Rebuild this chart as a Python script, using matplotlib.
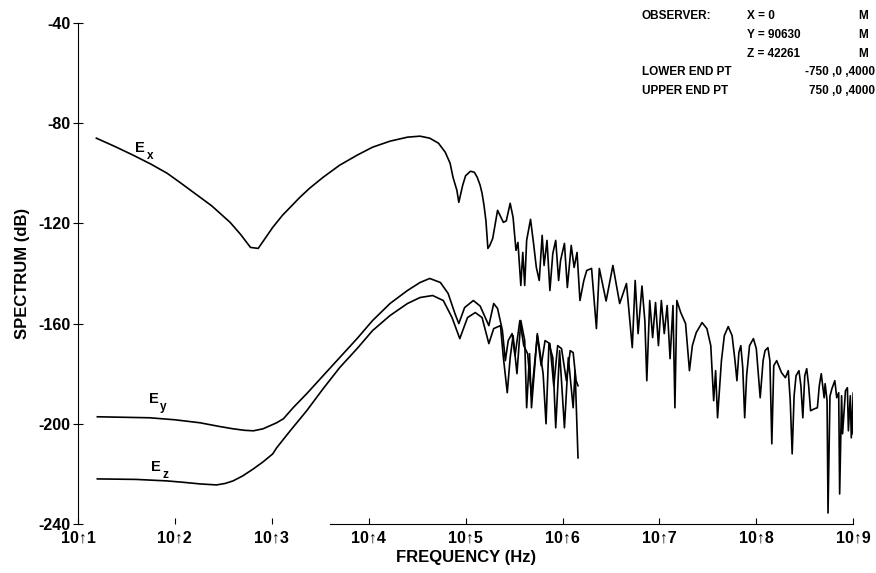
import matplotlib.pyplot as plt
import numpy as np

plt.rcParams['font.family'] = ['Liberation Sans', 'DejaVu Sans']
plt.rcParams['font.weight'] = 'bold'

# log10(frequency) and spectrum (dB)
ex_logf = [1.19, 1.38, 1.57, 1.75, 1.92, 2.05, 2.19, 2.38, 2.57, 2.68, 2.78, 2.86,
           3.01, 3.11, 3.19, 3.29, 3.39, 3.53, 3.70, 3.88, 4.04, 4.22, 4.40, 4.53,
           4.63, 4.72, 4.79, 4.84, 4.87, 4.91, 4.93, 4.97, 5.00, 5.05, 5.09, 5.12,
           5.15, 5.17, 5.19, 5.21, 5.23,
           5.25, 5.28, 5.33, 5.39, 5.42, 5.46, 5.49, 5.52, 5.54, 5.57, 5.59, 5.61,
           5.63, 5.67, 5.70, 5.73, 5.76, 5.79, 5.81, 5.84, 5.87, 5.90, 5.93, 5.96,
           5.98, 6.02, 6.05, 6.09, 6.12, 6.15, 6.18, 6.22, 6.25, 6.30, 6.35, 6.38,
           6.45, 6.52, 6.59, 6.66, 6.72, 6.75, 6.78, 6.82, 6.85, 6.87, 6.90, 6.93,
           6.96, 6.99, 7.02, 7.05, 7.08, 7.11, 7.14, 7.16, 7.18, 7.22, 7.27, 7.31,
           7.34, 7.38, 7.44, 7.49, 7.53, 7.56, 7.58, 7.60, 7.64, 7.67, 7.71, 7.75,
           7.78, 7.80, 7.82, 7.84, 7.86, 7.88, 7.90, 7.93, 7.97, 8.00, 8.04, 8.07,
           8.09, 8.12, 8.14, 8.16, 8.18, 8.21, 8.26, 8.30, 8.33, 8.35, 8.37, 8.39,
           8.41, 8.44, 8.46, 8.48, 8.50, 8.52, 8.54, 8.56, 8.60, 8.63, 8.65, 8.67,
           8.70, 8.71, 8.73, 8.74, 8.76, 8.78, 8.81, 8.83, 8.85, 8.86, 8.88, 8.89,
           8.92, 8.94, 8.95, 8.97, 8.98, 9.00, 9.00]
ex_db = [-86, -89.3, -92.8, -96.3, -100, -103.6, -107.6, -113, -119.6, -124.5, -129.6, -130,
         -121.6, -116.8, -113.6, -109.6, -106, -101.6, -96.8, -92.8, -89.6, -87.2, -85.6, -85.2,
         -86, -88, -91.6, -96, -101.6, -106.8, -111.6, -104.8, -101, -99.2, -99.6, -101.6,
         -104.8, -108, -112.8, -119, -130,
         -128.8, -126, -114.8, -119.6, -119, -112, -117.6, -130.8, -127.6, -144.8, -131.6, -144.8,
         -126.8, -118.4, -127.6, -137.6, -142.8, -124.8, -136.8, -126.8, -146.8, -132, -126.8, -142.8,
         -134.8, -128, -145.6, -128.8, -137.6, -131.6, -150.8, -142.8, -138.8, -138, -162, -138,
         -151, -136.8, -152, -144, -169.6, -142.8, -164, -145, -159, -182.8, -150.8, -165.6,
         -151.6, -168.8, -150.8, -164, -152.8, -174, -152.8, -193.6, -150.8, -155.6, -160, -178.8,
         -168.8, -163.6, -159.6, -162, -168.8, -190.8, -178.8, -197.6, -174.8, -164.8, -161.2, -164.8,
         -174.8, -182.8, -171.6, -168.8, -177.6, -197.6, -180.8, -168.8, -166, -170, -189.6, -174.8,
         -170.8, -169.6, -174.8, -208, -176.8, -174.8, -179.6, -181.6, -178.8, -190.8, -212, -188.8,
         -180.8, -178.8, -184.8, -197.6, -180.8, -178, -184.8, -194.8, -194, -193.6, -184.8, -180,
         -189.6, -184, -190.8, -235.6, -189, -186, -182.8, -189.6, -187.6, -228, -188.8, -204,
         -186.8, -185.6, -202.8, -188.8, -205.6, -187.6, -204]

ey_logf = [1.20, 1.74, 2.00, 2.26, 2.45, 2.60, 2.72, 2.81, 2.91, 2.98, 3.05, 3.12,
           3.22, 3.36, 3.53, 3.70, 3.88, 4.04, 4.22, 4.40, 4.53, 4.63, 4.74, 4.82,
           4.89, 4.93, 4.99, 5.08, 5.15, 5.24, 5.29, 5.33, 5.38, 5.41, 5.44, 5.48,
           5.51, 5.56, 5.60, 5.64, 5.68, 5.74, 5.78, 5.82, 5.87, 5.91, 5.95, 5.99,
           6.04, 6.08, 6.11, 6.14, 6.16]
ey_db = [-197.2, -197.6, -198.4, -199.6, -201, -202, -202.6, -202.8, -202, -200.8, -199.6, -198,
         -193.6, -188, -180.8, -173.6, -166, -158.8, -152, -146.8, -143.6, -142, -143.6, -148,
         -156, -160, -153.6, -150.8, -153, -160.8, -152, -154, -162.8, -174.8, -166.8, -164,
         -172.8, -158.8, -168.8, -172, -188.8, -164.8, -176.8, -166.8, -168, -184.8, -168.8, -170,
         -182.8, -170.8, -171.6, -182.8, -184.8]

ez_logf = [1.20, 1.60, 1.92, 2.10, 2.26, 2.43, 2.52, 2.60, 2.70, 2.81, 2.91, 3.01,
           3.05, 3.19, 3.36, 3.53, 3.70, 3.88, 4.04, 4.22, 4.40, 4.53, 4.66, 4.77,
           4.86, 4.94, 5.02, 5.10, 5.17, 5.24, 5.29, 5.36, 5.39, 5.43, 5.46, 5.49,
           5.53, 5.57, 5.61, 5.63, 5.66, 5.68, 5.74, 5.77, 5.80, 5.83, 5.86, 5.90,
           5.93, 5.97, 6.02, 6.06, 6.11, 6.13, 6.16]
ez_db = [-222, -222.2, -222.8, -223.4, -224, -224.4, -223.8, -222.8, -220.8, -218, -215.2, -212,
         -209.6, -202.8, -194.8, -186, -177.6, -170, -162.8, -156.8, -152, -149.6, -148.8, -150.8,
         -157.6, -166, -157.6, -155.6, -157.6, -168, -162, -160.8, -173.6, -187.6, -173.6, -164.8,
         -180, -158.8, -166.8, -193.6, -172, -193.6, -164, -172, -180, -200, -168, -173.6,
         -201.6, -170.8, -201.6, -173.6, -193.6, -178.8, -213.6]

fig = plt.figure(figsize=(8.76, 5.73), dpi=100)
ax = fig.add_axes([0.089, 0.0855, 0.885, 0.8745])

for lf, db in [(ex_logf, ex_db), (ey_logf, ey_db), (ez_logf, ez_db)]:
    ax.plot(10 ** np.array(lf), db, color='black', linewidth=1.2)

ax.set_xscale('log')
ax.set_xlim(10, 1e9)
ax.set_ylim(-240, -40)

xt = 10.0 ** np.arange(1, 10)
ax.set_xticks(xt)
ax.set_xticklabels([f"10\u2191{k}" for k in range(1, 10)], fontsize=11.5, fontweight='bold')
ax.minorticks_off()
yt = list(range(-240, -39, 40))
ax.set_yticks(yt)
ax.set_yticklabels([str(v) for v in yt], fontsize=11.5, fontweight='bold')
ax.tick_params(axis='x', direction='in', length=4, pad=5)
ax.tick_params(axis='y', direction='inout', length=7, pad=2)

for s in ['top', 'right']:
    ax.spines[s].set_visible(False)
ax.spines['bottom'].set_bounds(10 ** 3.6, 1e9)

ax.set_xlabel("FREQUENCY (Hz)", fontsize=12, fontweight='bold', labelpad=3)
ax.set_ylabel("SPECTRUM (dB)", fontsize=12, fontweight='bold', labelpad=6)

# curve labels
for lf, db, sub in [(1.64, -90, 'x'), (1.78, -190, 'y'), (1.80, -217.2, 'z')]:
    ax.text(10 ** lf, db, "E", fontsize=10.5, fontweight='bold', ha='center', va='center')
    ax.text(10 ** (lf + 0.1), db - 3.2, sub, fontsize=8.5, fontweight='bold', ha='center', va='center')

# observer block
fs = 8.5
def ftxt(x, y, s, ha='left'):
    fig.text(x / 876, 1 - y / 573, s, fontsize=fs, fontweight='bold', ha=ha, va='center')

ftxt(642, 16, "OBSERVER:")
ftxt(747, 16, "X = 0")
ftxt(858, 16, "M")
ftxt(747, 35, "Y = 90630")
ftxt(858, 35, "M")
ftxt(747, 54, "Z = 42261")
ftxt(858, 54, "M")
ftxt(642, 72, "LOWER END PT")
ftxt(875, 72, "-750 ,0 ,4000", ha='right')
ftxt(642, 91, "UPPER END PT")
ftxt(875, 91, "750 ,0 ,4000", ha='right')

fig.savefig("out.png", dpi=100)
